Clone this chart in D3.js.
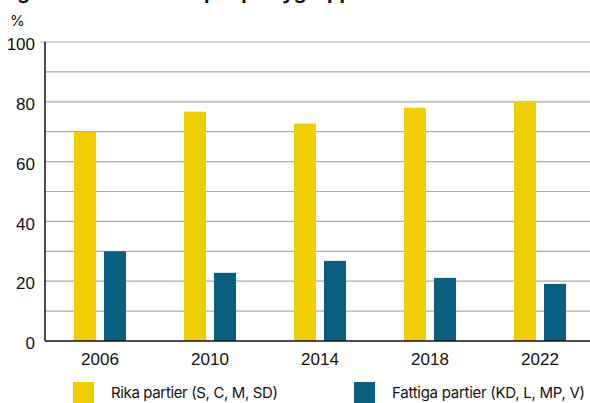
<!DOCTYPE html>
<html>
<head>
<meta charset="utf-8">
<script src="https://cdn.jsdelivr.net/npm/d3@7"></script>
<style>
  body { margin: 0; background: #fff; }
  svg { display: block; font-family: Inter, "Liberation Sans", sans-serif; }
</style>
</head>
<body>
<div id="chart"></div>
<script>
const years = ["2006", "2010", "2014", "2018", "2022"];
const rika = [70.0, 76.7, 72.7, 78.0, 80.3];
const fattiga = [30.0, 22.8, 26.8, 21.1, 19.1];
const seriesNames = ["Rika partier (S, C, M, SD)", "Fattiga partier (KD, L, MP, V)"];
const seriesColors = ["#f0cd00", "#0a5f80"];
const yTicks = [0, 20, 40, 60, 80, 100];
const gridValues = [10, 20, 30, 40, 50, 60, 70, 80, 90, 100];

const width = 590, height = 403;
const plotTop = 42, plotBottom = 341, plotLeft = 45;

const svg = d3.select("#chart").append("svg")
  .attr("width", width)
  .attr("height", height);

// title is cut off at the top edge, only descenders show
svg.append("text")
  .attr("x", 0)
  .attr("y", -1)
  .attr("font-size", 20)
  .attr("font-weight", 700)
  .attr("fill", "#111")
  .text("Figur 4. Andel röster per partygrupp");

const x0 = d3.scaleBand(years, [plotLeft, 595]);
const x1 = d3.scaleBand([0, 1], [29, 81]).paddingInner(0.267);
const y = d3.scaleLinear([0, 100], [plotBottom, plotTop]);

// gridlines
svg.append("g")
  .selectAll("line")
  .data(gridValues)
  .join("line")
  .attr("x1", d => d === 100 ? plotLeft - 5 : plotLeft)
  .attr("x2", width)
  .attr("y1", d => y(d))
  .attr("y2", d => y(d))
  .attr("stroke", "#aaa")
  .attr("stroke-width", 1.2);

// y axis labels
const yAxis = d3.axisLeft(y).tickValues(yTicks).tickSize(0).tickPadding(10);
svg.append("g")
  .attr("transform", `translate(${plotLeft},0)`)
  .call(yAxis)
  .call(g => g.select(".domain").remove())
  .call(g => g.selectAll("text")
    .attr("font-size", 17)
    .attr("fill", "#111")
    .attr("font-family", null)
    .attr("dy", "0.45em"));

svg.append("text")
  .attr("x", 10)
  .attr("y", 26)
  .attr("font-size", 15)
  .attr("fill", "#111")
  .text("%");

// bars
const values = [rika, fattiga];
const groups = svg.append("g")
  .selectAll("g")
  .data(years)
  .join("g")
  .attr("transform", d => `translate(${x0(d)},0)`);

groups.selectAll("rect")
  .data((d, i) => values.map((v, s) => ({ s, v: v[i] })))
  .join("rect")
  .attr("x", d => x1(d.s))
  .attr("width", x1.bandwidth())
  .attr("y", d => y(d.v))
  .attr("height", d => y(0) - y(d.v))
  .attr("fill", d => seriesColors[d.s]);

// x axis
const xAxis = d3.axisBottom(x0).tickSize(0).tickPadding(12);
svg.append("g")
  .attr("transform", `translate(0,${plotBottom})`)
  .call(xAxis)
  .call(g => g.select(".domain").remove())
  .call(g => g.selectAll("text")
    .attr("font-size", 17)
    .attr("fill", "#111")
    .attr("font-family", null));

svg.append("line")
  .attr("x1", plotLeft).attr("x2", width)
  .attr("y1", plotBottom).attr("y2", plotBottom)
  .attr("stroke", "#111")
  .attr("stroke-width", 1.5);

svg.append("line")
  .attr("x1", plotLeft).attr("x2", plotLeft)
  .attr("y1", plotTop).attr("y2", plotBottom)
  .attr("stroke", "#111")
  .attr("stroke-width", 1.5);

// legend
const legendX = [73, 354];
const legendTextWidth = [167, 193];
const legend = svg.append("g")
  .selectAll("g")
  .data(seriesNames)
  .join("g")
  .attr("transform", (d, i) => `translate(${legendX[i]},382)`);

legend.append("rect")
  .attr("width", 21)
  .attr("height", 21)
  .attr("fill", (d, i) => seriesColors[i]);

legend.append("text")
  .attr("x", 38)
  .attr("y", 16)
  .attr("font-size", 15)
  .attr("fill", "#111")
  .attr("textLength", (d, i) => legendTextWidth[i])
  .attr("lengthAdjust", "spacing")
  .text(d => d);
</script>
</body>
</html>
